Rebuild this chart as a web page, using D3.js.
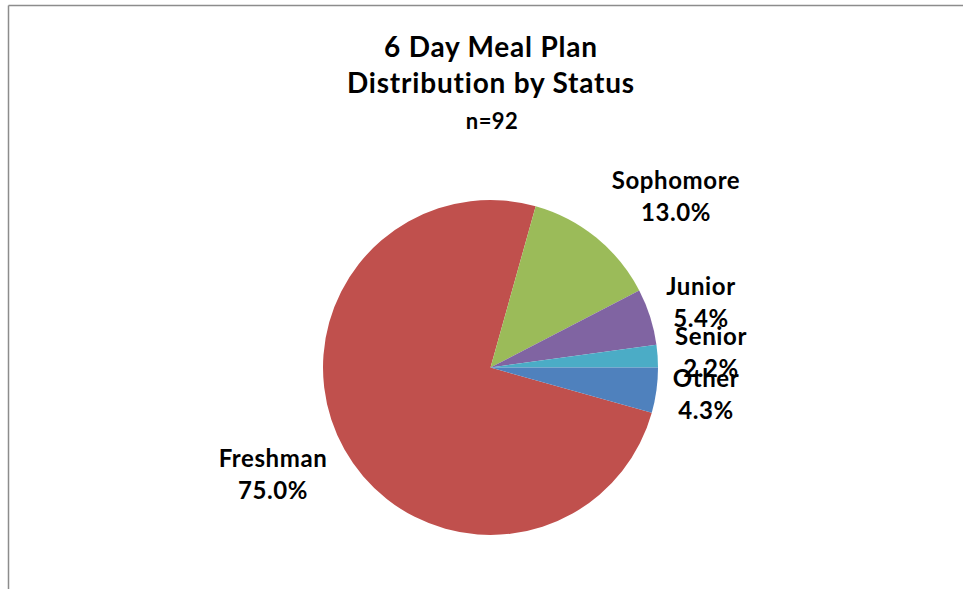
<!DOCTYPE html>
<html>
<head>
<meta charset="utf-8">
<script src="https://cdn.jsdelivr.net/npm/d3@7"></script>
<style>
  html, body { margin: 0; padding: 0; background: #fff; }
  svg { display: block; }
  text { font-family: Lato, "Open Sans", sans-serif; font-weight: bold; fill: #000; }
</style>
</head>
<body>
<svg id="chart" width="963" height="589"></svg>
<script>
// Student counts by class standing (n = 92)
const categories = ["Freshman", "Sophomore", "Junior", "Senior", "Other"];
const counts = [69, 12, 5, 2, 4];
const colors = ["#C0504D", "#9BBB59", "#8064A2", "#4BACC6", "#4F81BD"];
const titleLines = ["6 Day Meal Plan", "Distribution by Status"];
const subtitle = "n=92";

const width = 963, height = 589;
const svg = d3.select("#chart");

// Chart frame (top and left edges)
svg.append("line").attr("x1", 8.5).attr("y1", 5.5).attr("x2", width).attr("y2", 5.5)
  .attr("stroke", "#8c8c8c").attr("stroke-width", 1.5);
svg.append("line").attr("x1", 8.5).attr("y1", 5.5).attr("x2", 8.5).attr("y2", height)
  .attr("stroke", "#8c8c8c").attr("stroke-width", 1.5);

// Title
const title = svg.append("g").attr("text-anchor", "middle");
title.append("text").attr("x", 491).attr("y", 57).attr("font-size", 28)
  .attr("letter-spacing", 0.8).text(titleLines[0]);
title.append("text").attr("x", 491).attr("y", 93).attr("font-size", 28)
  .attr("letter-spacing", 0.8).text(titleLines[1]);
title.append("text").attr("x", 492).attr("y", 129).attr("font-size", 22)
  .attr("letter-spacing", 0.4).text(subtitle);

// Pie
const cx = 490.5, cy = 367.5, r = 167.5;
const total = d3.sum(counts);
const data = categories.map((c, i) => ({ name: c, value: counts[i], color: colors[i] }));
// Last slice ends at 3 o'clock; the rest follow clockwise from there
const otherShare = counts[counts.length - 1] / total;
const start = Math.PI / 2 + otherShare * 2 * Math.PI;
const pie = d3.pie().value(d => d.value).sort(null)
  .startAngle(start).endAngle(start + 2 * Math.PI);
const arcs = pie(data);
const arc = d3.arc().innerRadius(0).outerRadius(r);

const g = svg.append("g").attr("transform", `translate(${cx},${cy})`);
g.selectAll("path").data(arcs).join("path")
  .attr("d", arc)
  .attr("fill", d => d.data.color);

// Labels placed outside the pie
const fmt = d3.format(".1%");
const labelPos = {
  Freshman:  [273, 460],
  Sophomore: [676, 182],
  Junior:    [701, 288],
  Senior:    [711, 338],
  Other:     [706, 380]
};
const labels = svg.append("g").attr("text-anchor", "middle")
  .attr("font-size", 24).attr("letter-spacing", 0.6);
arcs.forEach(d => {
  const [x, y] = labelPos[d.data.name];
  const t = labels.append("text").attr("x", x).attr("y", y + 7);
  t.append("tspan").attr("x", x).text(d.data.name);
  t.append("tspan").attr("x", x).attr("dy", 32).text(fmt(d.data.value / total));
});
</script>
</body>
</html>
